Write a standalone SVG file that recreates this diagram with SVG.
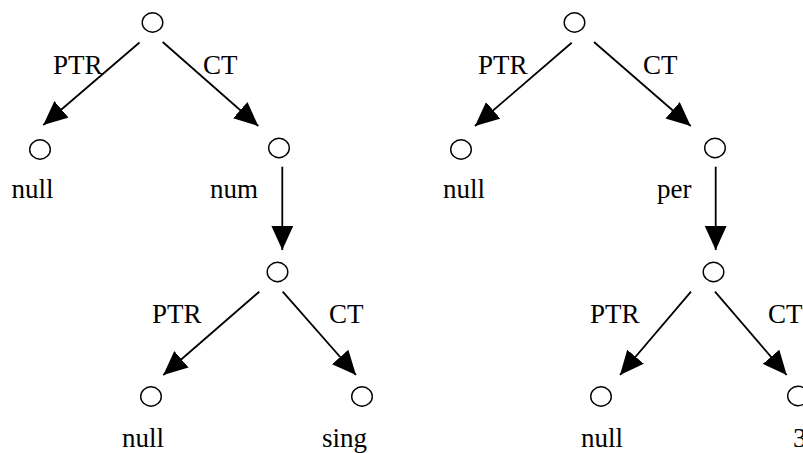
<svg xmlns="http://www.w3.org/2000/svg" width="803" height="453" viewBox="0 0 803 453">
  <style>
    .node { fill: none; stroke: #000; stroke-width: 1.4; }
    .edge { stroke: #000; stroke-width: 1.8; fill: none; marker-end: url(#head); }
  </style>
  <defs>
    <marker id="head" markerUnits="userSpaceOnUse" markerWidth="24" markerHeight="22" viewBox="0 0 22 20" refX="22" refY="10" orient="auto">
      <path d="M0,0 L22,10 L0,20 Z" fill="#000"/>
    </marker>
  </defs>
  <rect width="803" height="453" fill="#fff"/>

  <!-- edges -->
  <g id="connectors">
    <line class="edge" x1="139.5" y1="42.5" x2="43.3" y2="125"/>
    <line class="edge" x1="162.7" y1="42" x2="258.3" y2="126"/>
    <line class="edge" x1="282.3" y1="166.7" x2="282.3" y2="250"/>
    <line class="edge" x1="259.3" y1="291.7" x2="163.3" y2="375"/>
    <line class="edge" x1="282.7" y1="291.7" x2="356" y2="375"/>

    <line class="edge" x1="571.7" y1="42.7" x2="475" y2="126"/>
    <line class="edge" x1="594" y1="42" x2="690.7" y2="126"/>
    <line class="edge" x1="715.7" y1="166.7" x2="715.7" y2="250"/>
    <line class="edge" x1="691" y1="291.7" x2="620" y2="375"/>
    <line class="edge" x1="715" y1="291.7" x2="786.7" y2="375"/>
  </g>

  <!-- edge labels -->
  <g id="edge-labels">
    <text x="53" y="74" font-family="Liberation Serif" font-size="27">PTR</text>
    <text x="203" y="74" font-family="Liberation Serif" font-size="27">CT</text>
    <text x="152" y="323" font-family="Liberation Serif" font-size="27">PTR</text>
    <text x="329" y="323" font-family="Liberation Serif" font-size="27">CT</text>
    <text x="478" y="74" font-family="Liberation Serif" font-size="27">PTR</text>
    <text x="643" y="74" font-family="Liberation Serif" font-size="27">CT</text>
    <text x="590" y="323" font-family="Liberation Serif" font-size="27">PTR</text>
    <text x="768" y="323" font-family="Liberation Serif" font-size="27">CT</text>
  </g>

  <!-- left tree -->
  <g id="a-root"><ellipse class="node" cx="152.5" cy="22.5" rx="10.3" ry="9.7"/></g>
  <g id="a-ptr"><ellipse class="node" cx="40" cy="149.5" rx="10.3" ry="9.7"/><text x="11.5" y="198" font-family="Liberation Serif" font-size="27">null</text></g>
  <g id="a-ct"><ellipse class="node" cx="279" cy="148" rx="10.3" ry="9.7"/><text x="210" y="198" font-family="Liberation Serif" font-size="27">num</text></g>
  <g id="a-num"><ellipse class="node" cx="277.5" cy="272" rx="10.3" ry="9.7"/></g>
  <g id="a-num-ptr"><ellipse class="node" cx="151" cy="396.5" rx="10.3" ry="9.7"/><text x="122" y="447" font-family="Liberation Serif" font-size="27">null</text></g>
  <g id="a-num-ct"><ellipse class="node" cx="362" cy="396.5" rx="10.3" ry="9.7"/><text x="322" y="447" font-family="Liberation Serif" font-size="27">sing</text></g>

  <!-- right tree -->
  <g id="b-root"><ellipse class="node" cx="574.5" cy="22.5" rx="10.3" ry="9.7"/></g>
  <g id="b-ptr"><ellipse class="node" cx="461" cy="149.5" rx="10.3" ry="9.7"/><text x="443" y="198" font-family="Liberation Serif" font-size="27">null</text></g>
  <g id="b-ct"><ellipse class="node" cx="715" cy="148" rx="10.3" ry="9.7"/><text x="657" y="198" font-family="Liberation Serif" font-size="27">per</text></g>
  <g id="b-per"><ellipse class="node" cx="713.5" cy="272" rx="10.3" ry="9.7"/></g>
  <g id="b-per-ptr"><ellipse class="node" cx="601" cy="396.5" rx="10.3" ry="9.7"/><text x="581" y="447" font-family="Liberation Serif" font-size="27">null</text></g>
  <g id="b-per-ct"><ellipse class="node" cx="798" cy="396" rx="10.3" ry="9.7"/><text x="793" y="447" font-family="Liberation Serif" font-size="27">3</text></g>
</svg>
